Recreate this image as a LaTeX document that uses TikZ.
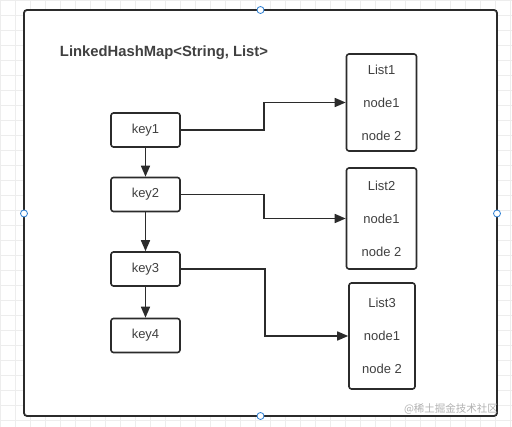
\documentclass[tikz,border=0pt]{standalone}
\usepackage{fontspec}
\setmainfont{Liberation Sans}
\newfontfamily\cjk{Noto Sans CJK SC}
\usetikzlibrary{arrows.meta}
\definecolor{ink}{HTML}{2B2B2B}
\definecolor{handle}{HTML}{2D7FD3}
\begin{document}
\begin{tikzpicture}[
  x=1pt, y=-1pt,
  every node/.style={
    font=\fontsize{13}{15}\selectfont, text=ink!90,
  },
  keybox/.style={
    draw=ink, rounded corners=2.5pt, line width=1.6pt,
    minimum width=69pt, minimum height=34pt
  },
  listbox/.style={
    draw=ink, rounded corners=2.5pt, line width=1.6pt, align=center,
    font=\fontsize{13}{33}\selectfont, minimum width=70pt
  },
  link/.style={
    draw=ink, line width=1.6pt, -{Triangle[length=11pt,width=9pt]}
  }
  ]
  \useasboundingbox (0,0) rectangle (512,427);
  \draw[black!7, step=15pt] (0,0) grid (512,427);
  \draw[draw=ink, fill=white, line width=1.8pt, rounded corners=3pt]
    (24,10) rectangle (497,416);
  \foreach \p in {(260.5,10),(24,213.5),(497,213.5),(260.5,416)}
    \draw[handle, fill=white, line width=0.8pt] \p circle (3.5pt);

  \node[font=\bfseries\fontsize{14.8}{17}\selectfont] (title) at (164,53)
    {LinkedHashMap<String, List>};

  \node[keybox] (key1) at (145.5,130) {key1};
  \node[keybox] (key2) at (145.5,194.5) {key2};
  \node[keybox] (key3) at (145.5,269) {key3};
  \node[keybox] (key4) at (145.5,335.5) {key4};

  \node[listbox, minimum height=97pt] (list1) at (381.5,102.5)
    {List1\\node1\\node 2};
  \node[listbox, minimum height=101pt] (list2) at (381.5,218.5)
    {List2\\node1\\node 2};
  \node[listbox, minimum height=106pt, minimum width=66pt] (list3) at (382,336)
    {List3\\node1\\node 2};

  \draw[link] (key1) -- (key2);
  \draw[link] (key2) -- (key3);
  \draw[link] (key3) -- (key4);
  \draw[link] (key1.east) -- ++(83,0) |- (list1.west);
  \draw[link] (key2.east) -- ++(83,0) |- (list2.west);
  \draw[link] (key3.east) -- ++(84,0) |- (list3.west);

  \node[text=black!30, font=\cjk\fontsize{10.5}{12}\selectfont] (mark) at (451,409)
    {@稀土掘金技术社区};
\end{tikzpicture}
\end{document}
